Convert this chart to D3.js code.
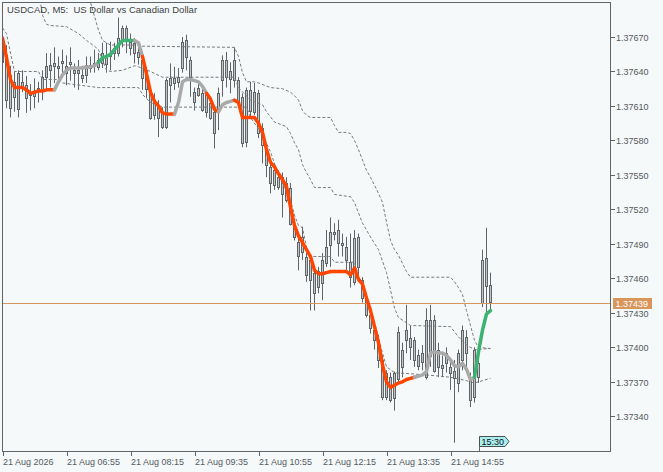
<!doctype html>
<html lang="en">
<head>
<meta charset="utf-8">
<title>USDCAD, M5</title>
<script src="https://d3js.org/d3.v7.min.js"></script>
<style>
  body { margin: 0; background: #f6f9fa; }
  svg text { font-family: "Liberation Sans", Arial, sans-serif; white-space: pre; }
</style>
</head>
<body>
<svg id="chart" width="663" height="472"></svg>
<script>
// 5-minute bars, 21 Aug 05:35 .. 15:45
const opens = [1.37669,1.37654,1.37608,1.37631,1.37608,1.37631,1.37628,1.37619,1.37623,1.37623,
  1.37624,1.37635,1.37642,1.37644,1.37645,1.37647,1.37645,1.37646,1.37641,1.37638,
  1.37637,1.37637,1.37646,1.37644,1.37644,1.37647,1.37653,1.37653,1.37656,1.37656,
  1.37667,1.37678,1.37666,1.37665,1.37657,1.37650,1.37640,1.37624,1.37602,1.37611,
  1.37604,1.37592,1.37634,1.37630,1.37635,1.37643,1.37667,1.37650,1.37622,1.37620,
  1.37621,1.37620,1.37613,1.37605,1.37605,1.37633,1.37650,1.37633,1.37633,1.37633,
  1.37618,1.37579,1.37624,1.37605,1.37621,1.37591,1.37572,1.37557,1.37541,1.37548,
  1.37548,1.37543,1.37539,1.37505,1.37492,1.37483,1.37479,1.37459,1.37465,1.37452,
  1.37456,1.37473,1.37489,1.37500,1.37491,1.37491,1.37487,1.37474,1.37457,1.37496,
  1.37459,1.37444,1.37428,1.37415,1.37406,1.37389,1.37357,1.37374,1.37356,1.37372,
  1.37398,1.37406,1.37408,1.37406,1.37393,1.37387,1.37374,1.37424,1.37380,1.37398,
  1.37385,1.37386,1.37383,1.37379,1.37369,1.37389,1.37409,1.37374,1.37357,1.37374,
  1.37439,1.37478,1.37454];
const highs = [1.37678,1.37663,1.37645,1.37640,1.37641,1.37641,1.37636,1.37629,1.37634,1.37631,
  1.37641,1.37656,1.37656,1.37661,1.37653,1.37659,1.37654,1.37661,1.37647,1.37650,
  1.37645,1.37653,1.37653,1.37659,1.37656,1.37665,1.37665,1.37666,1.37665,1.37687,
  1.37680,1.37680,1.37673,1.37669,1.37663,1.37656,1.37644,1.37626,1.37621,1.37615,
  1.37609,1.37634,1.37647,1.37644,1.37643,1.37670,1.37672,1.37653,1.37626,1.37630,
  1.37628,1.37621,1.37618,1.37609,1.37626,1.37654,1.37657,1.37648,1.37661,1.37635,
  1.37621,1.37626,1.37631,1.37630,1.37624,1.37595,1.37574,1.37563,1.37560,1.37554,
  1.37552,1.37548,1.37543,1.37511,1.37496,1.37505,1.37482,1.37479,1.37470,1.37470,
  1.37482,1.37502,1.37513,1.37508,1.37511,1.37499,1.37496,1.37499,1.37502,1.37499,
  1.37461,1.37447,1.37432,1.37418,1.37411,1.37393,1.37380,1.37378,1.37379,1.37418,
  1.37404,1.37437,1.37419,1.37409,1.37398,1.37402,1.37434,1.37437,1.37428,1.37404,
  1.37393,1.37400,1.37389,1.37389,1.37398,1.37419,1.37415,1.37378,1.37400,1.37395,
  1.37485,1.37504,1.37465];
const lows = [1.37647,1.37608,1.37600,1.37605,1.37600,1.37622,1.37604,1.37606,1.37608,1.37613,
  1.37615,1.37624,1.37626,1.37630,1.37631,1.37635,1.37628,1.37632,1.37626,1.37624,
  1.37630,1.37630,1.37639,1.37639,1.37641,1.37643,1.37639,1.37641,1.37650,1.37653,
  1.37661,1.37656,1.37654,1.37647,1.37646,1.37624,1.37617,1.37598,1.37598,1.37583,
  1.37590,1.37590,1.37613,1.37624,1.37626,1.37639,1.37641,1.37618,1.37606,1.37618,
  1.37605,1.37600,1.37598,1.37573,1.37589,1.37618,1.37626,1.37621,1.37626,1.37609,
  1.37574,1.37574,1.37600,1.37602,1.37582,1.37560,1.37548,1.37534,1.37537,1.37537,
  1.37513,1.37526,1.37506,1.37493,1.37467,1.37476,1.37457,1.37432,1.37432,1.37447,
  1.37441,1.37470,1.37470,1.37493,1.37479,1.37479,1.37465,1.37452,1.37454,1.37459,
  1.37439,1.37426,1.37412,1.37398,1.37382,1.37354,1.37354,1.37352,1.37345,1.37369,
  1.37374,1.37395,1.37389,1.37383,1.37380,1.37380,1.37372,1.37383,1.37378,1.37374,
  1.37374,1.37378,1.37363,1.37317,1.37361,1.37380,1.37383,1.37348,1.37352,1.37369,
  1.37435,1.37430,1.37432];
const closes = [1.37648,1.37615,1.37637,1.37618,1.37639,1.37627,1.37617,1.37622,1.37619,1.37626,
  1.37635,1.37645,1.37646,1.37647,1.37643,1.37649,1.37639,1.37648,1.37638,1.37641,
  1.37634,1.37646,1.37643,1.37647,1.37650,1.37656,1.37647,1.37656,1.37660,1.37669,
  1.37678,1.37667,1.37661,1.37656,1.37653,1.37634,1.37624,1.37600,1.37615,1.37600,
  1.37592,1.37633,1.37628,1.37634,1.37631,1.37666,1.37652,1.37635,1.37613,1.37626,
  1.37606,1.37604,1.37600,1.37587,1.37621,1.37650,1.37635,1.37640,1.37650,1.37615,
  1.37578,1.37624,1.37606,1.37622,1.37586,1.37576,1.37559,1.37543,1.37554,1.37539,
  1.37533,1.37528,1.37508,1.37496,1.37480,1.37496,1.37463,1.37476,1.37448,1.37466,
  1.37476,1.37487,1.37500,1.37498,1.37502,1.37489,1.37476,1.37461,1.37495,1.37470,
  1.37443,1.37428,1.37417,1.37406,1.37389,1.37357,1.37378,1.37354,1.37378,1.37413,
  1.37383,1.37415,1.37400,1.37389,1.37383,1.37395,1.37424,1.37393,1.37424,1.37383,
  1.37382,1.37395,1.37378,1.37373,1.37395,1.37415,1.37395,1.37354,1.37398,1.37386,
  1.37476,1.37454,1.37439];

// coloured average, one value per bar
const avgLine = [1.37669,1.37652,1.37633,1.37626,1.37626,1.37626,1.37624,1.37621,1.37622,1.37623,
  1.37623,1.37624,1.37624,1.37624,1.37631,1.37637,1.37641,1.37643,1.37643,1.37643,
  1.37643,1.37644,1.37644,1.37645,1.37648,1.37652,1.37653,1.37655,1.37659,1.37663,
  1.37667,1.37667,1.37667,1.37667,1.37665,1.37653,1.37638,1.37622,1.37614,1.37610,
  1.37604,1.37603,1.37603,1.37603,1.37613,1.37631,1.37633,1.37633,1.37632,1.37631,
  1.37627,1.37621,1.37616,1.37607,1.37605,1.37611,1.37613,1.37614,1.37615,1.37613,
  1.37600,1.37600,1.37600,1.37600,1.37595,1.37587,1.37572,1.37561,1.37557,1.37551,
  1.37546,1.37540,1.37522,1.37506,1.37497,1.37491,1.37485,1.37479,1.37467,1.37464,
  1.37464,1.37465,1.37466,1.37466,1.37466,1.37466,1.37466,1.37463,1.37469,1.37459,
  1.37455,1.37443,1.37432,1.37418,1.37404,1.37385,1.37370,1.37365,1.37367,1.37369,
  1.37370,1.37372,1.37373,1.37374,1.37375,1.37376,1.37379,1.37395,1.37396,1.37395,
  1.37395,1.37393,1.37389,1.37384,1.37383,1.37386,1.37381,1.37372,1.37374,1.37396,
  1.37415,1.37429,1.37432];
// [first bar, last bar, state]
const trendRuns = [[0,13,"down"],[14,24,"flat"],[25,33,"up"],[34,35,"flat"],[36,43,"down"],
  [44,51,"flat"],[52,54,"down"],[55,58,"flat"],[59,103,"down"],[104,118,"flat"],[119,122,"up"]];

// dashed band lines: [bar, price] vertices
const bandOuter = [[20,1.37720],[21,1.37709],[22,1.37700],[23,1.37688],[24,1.37676],[25,1.37667],
  [26,1.37665],[27,1.37663],[34,1.37663],[35,1.37662],[58,1.37661],[59,1.37653],[60,1.37639],
  [61,1.37631],[63,1.37631],[64,1.37630],[67,1.37626],[70,1.37625],[72,1.37622],[73,1.37619],
  [74,1.37615],[75,1.37606],[76,1.37602],[77,1.37600],[82,1.37600],[83,1.37593],[84,1.37587],
  [86,1.37587],[87,1.37586],[88,1.37580],[89,1.37572],[90,1.37563],[91,1.37554],[92,1.37548],
  [93,1.37541],[94,1.37534],[95,1.37526],[96,1.37509],[97,1.37493],[98,1.37485],[99,1.37480],
  [100,1.37473],[101,1.37466],[102,1.37461],[112,1.37461],[113,1.37457],[114,1.37452],
  [115,1.37446],[116,1.37432],[117,1.37419],[118,1.37406],[119,1.37400],[122,1.37399]];
const bandInner = [[9,1.37711],[10,1.37689],[11,1.37681],[12,1.37680],[16,1.37679],[19,1.37673],
  [21,1.37667],[23,1.37662],[24,1.37659],[25,1.37650],[26,1.37641],[27,1.37640],[30,1.37641],
  [33,1.37645],[34,1.37644],[37,1.37640],[40,1.37635],[58,1.37635],[59,1.37626],[62,1.37615],
  [65,1.37611],[66,1.37605],[68,1.37596],[71,1.37592],[72,1.37586],[73,1.37578],[74,1.37572],
  [75,1.37559],[76,1.37552],[77,1.37546],[78,1.37539],[82,1.37539],[83,1.37533],[87,1.37531],
  [88,1.37526],[90,1.37508],[92,1.37496],[94,1.37485],[96,1.37465],[97,1.37450],[98,1.37434],
  [99,1.37426],[102,1.37419],[112,1.37418],[114,1.37409],[116,1.37402],[118,1.37398],[122,1.37399]];
const bandLower = [[0,1.37678],[1,1.37673],[2,1.37656],[3,1.37640],[9,1.37640],[10,1.37633],
  [14,1.37633],[15,1.37630],[24,1.37626],[34,1.37626],[35,1.37620],[37,1.37613],[40,1.37609],
  [61,1.37609],[62,1.37600],[65,1.37585],[67,1.37570],[69,1.37550],[72,1.37528],[73,1.37515],
  [74,1.37506],[75,1.37504],[76,1.37487],[77,1.37479],[82,1.37479],[83,1.37474],[88,1.37474],
  [89,1.37463],[90,1.37452],[93,1.37422],[95,1.37395],[96,1.37383],[98,1.37378],[106,1.37376],
  [112,1.37374],[116,1.37371],[118,1.37369],[122,1.37373]];

const yTicks = [1.37340,1.37370,1.37400,1.37430,1.37460,1.37490,1.37520,1.37550,1.37580,1.37610,1.37640,1.37670];
const xTickBars = [0,16,32,48,64,80,96,112];
const xTickLabels = ["21 Aug 2026","21 Aug 06:55","21 Aug 08:15","21 Aug 09:35",
  "21 Aug 10:55","21 Aug 12:15","21 Aug 13:35","21 Aug 14:55"];
const lastPrice = 1.37439;
const timeMarkBar = 119, timeMarkLabel = "15:30";

const svg = d3.select("#chart");
const plotLeft = 2, plotTop = 2, plotRight = 610, plotBottom = 451;
const axisColor = "#5f6468";

const x = d3.scaleLinear().domain([0, 122]).range([2.5, 490.5]);
const y = d3.scaleLinear().domain([1.37340, 1.37670]).range([416.3, 37]);

svg.append("rect").attr("width", 663).attr("height", 472).attr("fill", "#f6f9fa");

svg.append("clipPath").attr("id", "plot")
  .append("rect").attr("x", plotLeft).attr("y", plotTop)
  .attr("width", plotRight - plotLeft).attr("height", plotBottom - plotTop);

const plot = svg.append("g").attr("clip-path", "url(#plot)");

// candles
const bars = d3.range(opens.length);
const candle = plot.selectAll(".candle").data(bars).enter().append("g").attr("class", "candle");
candle.append("line")
  .attr("x1", i => x(i)).attr("x2", i => x(i))
  .attr("y1", i => y(highs[i])).attr("y2", i => y(lows[i]))
  .attr("stroke", axisColor).attr("stroke-width", 1);
candle.append("rect")
  .attr("x", i => x(i) - 1).attr("width", 2)
  .attr("y", i => Math.round(y(Math.max(opens[i], closes[i]))) + 0.5)
  .attr("height", i => Math.max(1, Math.round(Math.abs(y(opens[i]) - y(closes[i])))))
  .attr("fill", "#c4c6c6").attr("stroke", axisColor).attr("stroke-width", 1);

// dashed bands
const bandLine = d3.line().x(d => x(d[0])).y(d => y(d[1]));
[bandOuter, bandInner, bandLower].forEach(b => {
  plot.append("path").attr("d", bandLine(b))
    .attr("fill", "none").attr("stroke", "#767b7e")
    .attr("stroke-width", 1).attr("stroke-dasharray", "3,2");
});

// bid line
const py = Math.round(y(lastPrice)) + 0.5;
plot.append("line").attr("x1", plotLeft).attr("x2", plotRight).attr("y1", py).attr("y2", py)
  .attr("stroke", "#d8955c").attr("stroke-width", 1);

// coloured average
const trendColor = { down: "#ff4500", flat: "#a9a9a9", up: "#3cb371" };
const avgPath = d3.line().x(i => x(i)).y(i => y(avgLine[i]));
trendRuns.forEach(r => {
  const idx = d3.range(Math.max(0, r[0] - 1), r[1] + 1);
  plot.append("path").attr("d", avgPath(idx))
    .attr("fill", "none").attr("stroke", trendColor[r[2]])
    .attr("stroke-width", 3.5).attr("stroke-linejoin", "round").attr("stroke-linecap", "round");
});

// frame
svg.append("rect").attr("x", plotLeft + 0.5).attr("y", plotTop + 0.5)
  .attr("width", plotRight - plotLeft).attr("height", plotBottom - plotTop)
  .attr("fill", "none").attr("stroke", axisColor);

// price axis
yTicks.forEach(v => {
  const ty = Math.round(y(v)) + 0.5;
  svg.append("line").attr("x1", plotRight).attr("x2", plotRight + 5).attr("y1", ty).attr("y2", ty)
    .attr("stroke", axisColor);
  svg.append("text").attr("x", 616).attr("y", ty + 3.3)
    .attr("font-size", 9).attr("fill", "#555a5e").text(v.toFixed(5));
});
svg.append("rect").attr("x", 613).attr("y", py - 5.5).attr("width", 39).attr("height", 11)
  .attr("fill", "#d8955c");
svg.append("text").attr("x", 615.5).attr("y", py + 3.5)
  .attr("font-size", 9).attr("fill", "#ffffff").text(lastPrice.toFixed(5));

// time axis
xTickBars.forEach((b, k) => {
  const tx = Math.round(x(b)) + 0.5;
  svg.append("line").attr("x1", tx).attr("x2", tx).attr("y1", plotBottom).attr("y2", plotBottom + 5)
    .attr("stroke", axisColor);
  svg.append("text").attr("x", tx - 0.5).attr("y", 465)
    .attr("font-size", 9).attr("fill", "#555a5e").text(xTickLabels[k]);
});

// time marker
const mx = Math.round(x(timeMarkBar)) + 0.5;
svg.append("line").attr("x1", mx).attr("x2", mx).attr("y1", 446).attr("y2", plotBottom)
  .attr("stroke", axisColor);
svg.append("path")
  .attr("d", `M${mx},436.5 L${mx + 25.5},436.5 L${mx + 29.5},441.5 L${mx + 25.5},446.5 L${mx},446.5 Z`)
  .attr("fill", "#aaeef0").attr("stroke", "#4a4f52");
svg.append("text").attr("x", mx + 2).attr("y", 445)
  .attr("font-size", 9).attr("fill", "#111").text(timeMarkLabel);

// title
svg.append("text").attr("x", 7).attr("y", 13)
  .attr("font-size", 9.5).attr("fill", "#3d4245")
  .text("USDCAD, M5:  US Dollar vs Canadian Dollar");
</script>
</body>
</html>
